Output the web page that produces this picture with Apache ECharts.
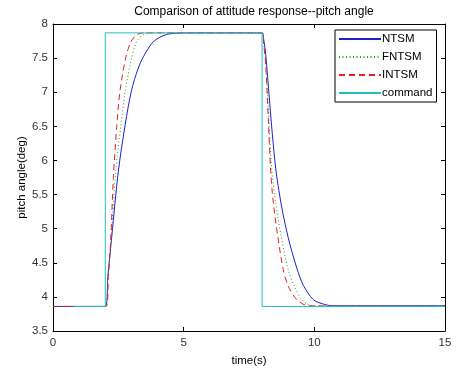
<!DOCTYPE html>
<html>
<head>
<meta charset="utf-8">
<script src="https://cdn.jsdelivr.net/npm/echarts@6/dist/echarts.min.js"></script>
<style>html,body{margin:0;padding:0;background:#fff;}#c{width:456px;height:372px;}</style>
</head>
<body>
<div id="c"></div>
<script>
// ---- data ----
const xTicks = [0, 5, 10, 15];
const yTicks = [3.5, 4, 4.5, 5, 5.5, 6, 6.5, 7, 7.5, 8];

const ntsmTime = [0, 2.0, 2.1, 2.25, 2.5, 2.76, 3.0, 3.25, 3.46, 3.84, 4.29, 4.7, 5.1, 8.0, 8.06, 8.14, 8.25, 8.34, 8.45, 8.55, 8.75, 9.0, 9.33, 9.58, 9.96, 10.3, 10.7, 15];
const ntsmVal  = [3.86, 3.86, 4.3, 4.89, 5.84, 6.52, 7.02, 7.34, 7.52, 7.74, 7.84, 7.865, 7.87, 7.87, 7.78, 7.55, 7.05, 6.62, 6.15, 5.80, 5.32, 4.87, 4.42, 4.17, 3.96, 3.90, 3.87, 3.87];

const fntsmTime = [0, 2.0, 2.1, 2.22, 2.40, 2.60, 2.76, 3.01, 3.20, 3.45, 3.85, 8.0, 8.05, 8.14, 8.24, 8.37, 8.52, 8.73, 9.0, 9.23, 9.52, 9.9, 15];
const fntsmVal  = [3.86, 3.86, 4.3, 4.85, 5.84, 6.52, 7.01, 7.50, 7.74, 7.84, 7.87, 7.87, 7.74, 7.45, 6.75, 5.87, 5.38, 4.89, 4.40, 4.16, 3.96, 3.87, 3.86];

const intsmTime = [0, 2.03, 2.12, 2.21, 2.31, 2.44, 2.56, 2.78, 2.98, 3.2, 3.45, 8.0, 8.06, 8.14, 8.24, 8.33, 8.43, 8.60, 8.81, 9.0, 9.33, 9.77, 15];
const intsmVal  = [3.86, 3.86, 4.3, 4.85, 5.75, 6.50, 7.01, 7.50, 7.74, 7.84, 7.87, 7.87, 7.72, 7.40, 6.60, 5.84, 5.38, 4.89, 4.40, 4.16, 3.96, 3.87, 3.86];

const commandTime = [0.8, 2, 2, 8, 8, 15];
const commandVal  = [3.86, 3.86, 7.87, 7.87, 3.86, 3.86];

const seriesNames = ['NTSM', 'FNTSM', 'INTSM', 'command'];

function pairs(t, v) { return t.map((x, i) => [x, v[i]]); }

const FONT = 'Liberation Sans, Arial, sans-serif';
const chart = echarts.init(document.getElementById('c'), null, {renderer: 'canvas'});

const axisCommon = {
  type: 'value',
  axisLine: {show: true, onZero: false, lineStyle: {color: '#000', width: 1}},
  axisTick: {show: true, inside: true, length: 4, lineStyle: {color: '#000'}},
  splitLine: {show: false},
};

chart.setOption({
  animation: false,
  backgroundColor: '#fff',
  title: {
    text: 'Comparison of attitude response--pitch angle',
    left: 249, textAlign: 'center', top: 1,
    textStyle: {fontFamily: FONT, fontSize: 12, fontWeight: 'normal', color: '#000'}
  },
  grid: {left: 53, right: 11, top: 24, bottom: 40, containLabel: false},
  legend: {
    orient: 'vertical', left: 335, top: 30,
    data: seriesNames,
    itemWidth: 42, itemHeight: 10, itemGap: 6,
    padding: [3, 4, 3, 3],
    itemStyle: {opacity: 0},
    backgroundColor: '#fff', borderColor: '#000', borderWidth: 1, borderRadius: 0,
    textStyle: {fontFamily: FONT, fontSize: 11.5, color: '#000', padding: [0, 0, 0, -4]}
  },
  xAxis: [
    Object.assign({}, axisCommon, {
      min: xTicks[0], max: xTicks[xTicks.length - 1], interval: xTicks[1] - xTicks[0],
      name: 'time(s)', nameLocation: 'middle', nameGap: 24, nameMoveOverlap: false,
      nameTextStyle: {fontFamily: FONT, fontSize: 11.5, color: '#000'},
      axisLabel: {fontFamily: FONT, fontSize: 11.5, color: '#333', margin: 6}
    }),
    Object.assign({}, axisCommon, {
      position: 'top',
      min: xTicks[0], max: xTicks[xTicks.length - 1], interval: xTicks[1] - xTicks[0],
      axisLabel: {show: false}
    })
  ],
  yAxis: [
    Object.assign({}, axisCommon, {
      min: yTicks[0], max: yTicks[yTicks.length - 1], interval: yTicks[1] - yTicks[0],
      name: 'pitch angle(deg)', nameLocation: 'middle', nameGap: 25, nameMoveOverlap: false,
      nameTextStyle: {fontFamily: FONT, fontSize: 11.5, color: '#000'},
      axisLabel: {fontFamily: FONT, fontSize: 11.5, color: '#333', margin: 5}
    }),
    Object.assign({}, axisCommon, {
      position: 'right',
      min: yTicks[0], max: yTicks[yTicks.length - 1], interval: yTicks[1] - yTicks[0],
      axisLabel: {show: false}
    })
  ],
  series: [
    {name: 'NTSM', type: 'line', data: pairs(ntsmTime, ntsmVal), symbol: 'none', smooth: 0.3,
     lineStyle: {color: '#1f1fd0', width: 1}, itemStyle: {color: '#1f1fd0'}},
    {name: 'FNTSM', type: 'line', data: pairs(fntsmTime, fntsmVal), symbol: 'none', smooth: 0.3,
     lineStyle: {color: '#2a9a2a', width: 1, type: [1, 2.5]}, itemStyle: {color: '#2a9a2a'}},
    {name: 'INTSM', type: 'line', data: pairs(intsmTime, intsmVal), symbol: 'none', smooth: 0.3,
     lineStyle: {color: '#e02030', width: 1, type: [6, 4]}, itemStyle: {color: '#e02030'}},
    {name: 'command', type: 'line', data: pairs(commandTime, commandVal), symbol: 'none',
     lineStyle: {color: '#20c0c0', width: 1}, itemStyle: {color: '#20c0c0'}}
  ]
});
</script>
</body>
</html>
